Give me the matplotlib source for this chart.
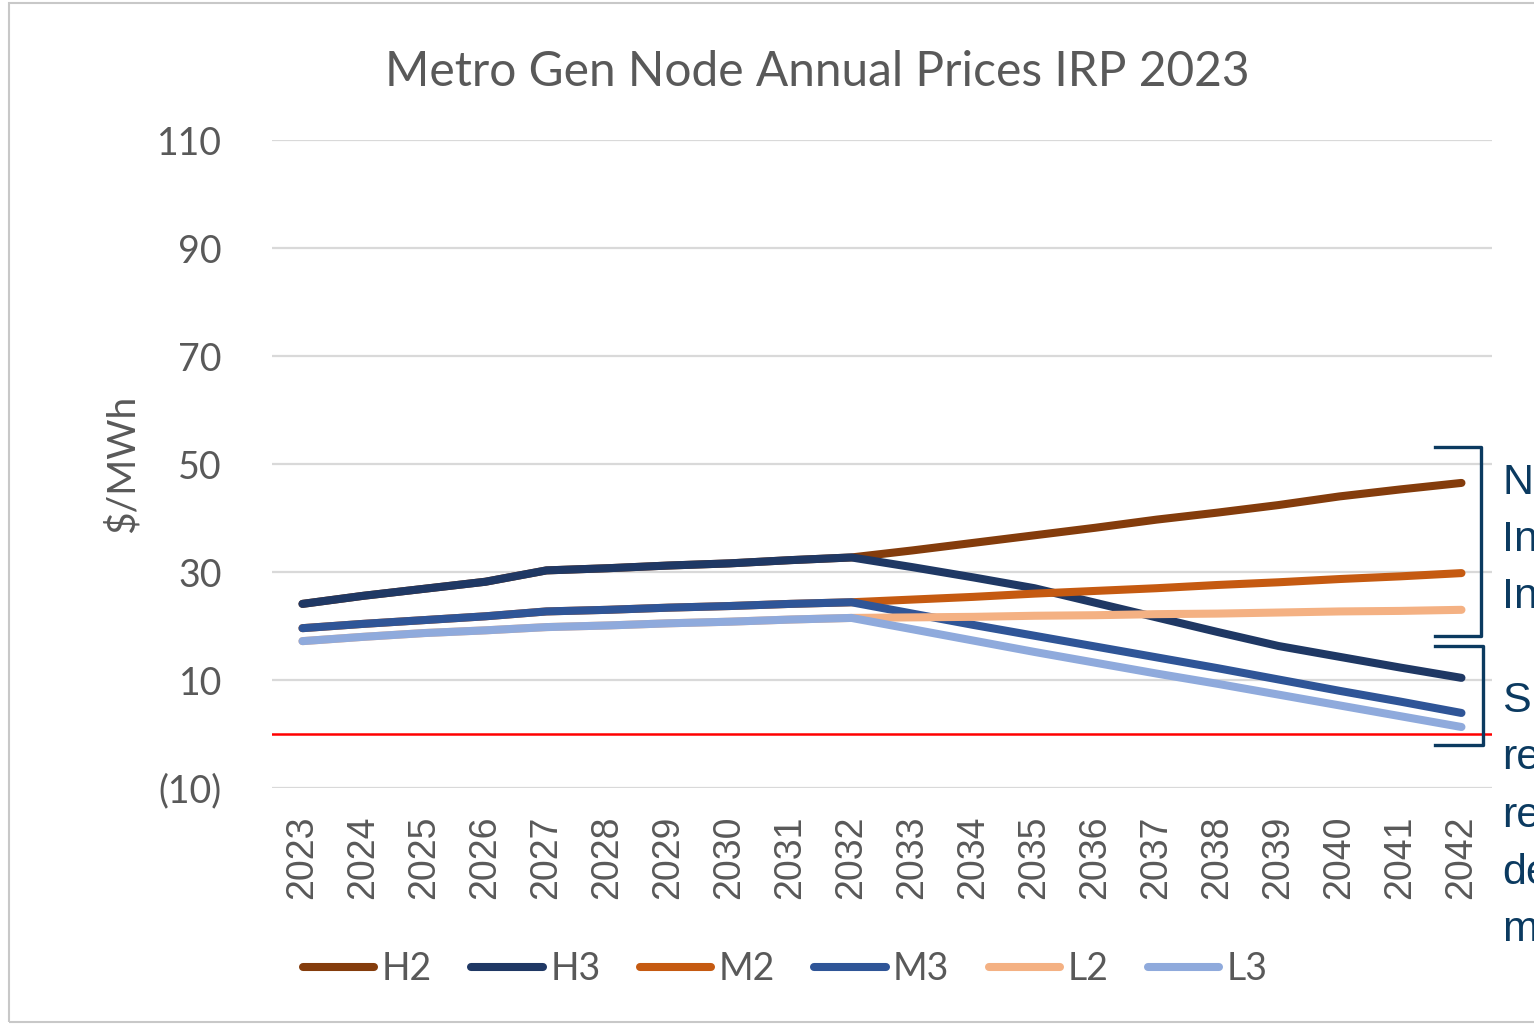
import matplotlib.pyplot as plt
from matplotlib.lines import Line2D
from matplotlib.patches import Rectangle
from matplotlib.ticker import FuncFormatter

anos = list(range(2023, 2043))

h2 = [24.1, 25.6, 26.9, 28.2, 30.3, 30.7, 31.2, 31.6, 32.2, 32.7,
      34.0, 35.4, 36.8, 38.2, 39.7, 41.0, 42.4, 44.0, 45.3, 46.5]
h3 = [24.1, 25.6, 26.9, 28.2, 30.3, 30.7, 31.2, 31.6, 32.2, 32.7,
      30.9, 29.0, 27.0, 24.3, 21.6, 18.9, 16.3, 14.3, 12.3, 10.4]
m2 = [19.6, 20.4, 21.1, 21.8, 22.7, 23.0, 23.4, 23.7, 24.1, 24.4,
      24.9, 25.4, 26.0, 26.5, 27.0, 27.6, 28.1, 28.7, 29.2, 29.8]
m3 = [19.6, 20.4, 21.1, 21.8, 22.7, 23.0, 23.4, 23.7, 24.1, 24.4,
      22.3, 20.2, 18.2, 16.2, 14.2, 12.2, 10.1, 8.0, 6.0, 3.9]
l2 = [17.2, 18.0, 18.7, 19.2, 19.8, 20.1, 20.5, 20.8, 21.2, 21.5,
      21.6, 21.7, 21.9, 22.0, 22.2, 22.3, 22.5, 22.7, 22.8, 23.0]
l3 = [17.2, 18.0, 18.7, 19.2, 19.8, 20.1, 20.5, 20.8, 21.2, 21.5,
      19.4, 17.3, 15.2, 13.2, 11.2, 9.3, 7.3, 5.3, 3.3, 1.3]

series = [('H2', h2, '#843C0C'), ('H3', h3, '#1F3864'),
          ('M2', m2, '#C55A11'), ('M3', m3, '#2F5597'),
          ('L2', l2, '#F4B183'), ('L3', l3, '#8FAADC')]

yticks = [-10, 10, 30, 50, 70, 90, 110]
cinza = '#595959'
azul_nota = '#0B3A60'

fig = plt.figure(figsize=(15.34, 10.25), dpi=100)
ax = fig.add_axes([0.1773, 0.2312, 0.7953, 0.6322])

x = list(range(len(anos)))
for nome, vals, cor in series:
    ax.plot(x, vals, color=cor, lw=5.8, label=nome, solid_capstyle='round', zorder=3)

ax.axhline(0, color='#FF0000', lw=1.8, zorder=4)

ax.set_xlim(-0.5, len(anos) - 0.5)
ax.set_ylim(-10, 110)
ax.set_yticks(yticks)
ax.yaxis.set_major_formatter(FuncFormatter(lambda v, p: f'({abs(int(v))})' if v < 0 else f'{int(v)}'))
ax.set_xticks(x)
ax.set_xticklabels([str(a) for a in anos], rotation=90, fontsize=27,
                   family='Liberation Sans', color=cinza)
for t in ax.get_yticklabels():
    t.set_family('Lato')
    t.set_fontsize(27)
    t.set_color(cinza)
ax.tick_params(axis='both', length=0)
ax.tick_params(axis='x', pad=20)
ax.tick_params(axis='y', pad=36)
ax.grid(axis='y', color='#D9D9D9', lw=1.6, zorder=0)
for s in ax.spines.values():
    s.set_visible(False)

ax.set_ylabel('$/MWh', family='Lato', fontsize=28, color=cinza, labelpad=12)
fig.text(0.5325, 0.93, 'Metro Gen Node Annual Prices IRP 2023', ha='center', va='center',
         family='Lato', fontsize=34.5, color=cinza)

leg = fig.legend(loc='center', bbox_to_anchor=(0.512, 0.055), ncol=6, frameon=False,
                 prop={'family': 'Lato', 'size': 27}, handlelength=1.9,
                 handletextpad=0.2, columnspacing=1.05)
for t in leg.get_texts():
    t.set_color(cinza)

# colchetes e notas do lado direito
W, H = 1534, 1025
def colchete(y0, y1, xr=1481, xl=1435):
    pts_x = [xl / W, xr / W, xr / W, xl / W]
    pts_y = [1 - y0 / H, 1 - y0 / H, 1 - y1 / H, 1 - y1 / H]
    fig.add_artist(Line2D(pts_x, pts_y, color=azul_nota, lw=2.4,
                          solid_joinstyle='round', transform=fig.transFigure))

colchete(447, 636)
colchete(646, 745, xr=1483)

fig.text(1502 / W, 1 - 463 / H, 'N\nIn\nIn', ha='left', va='top', family='Liberation Sans',
         fontsize=31, color=azul_nota, linespacing=1.55)
fig.text(1502 / W, 1 - 681 / H, 'S\nre\nre\nde\nm', ha='left', va='top', family='Liberation Sans',
         fontsize=31, color=azul_nota, linespacing=1.56)

fig.add_artist(Rectangle((9 / W, 3 / H), 1.2, 1 - 6 / H, fill=False, edgecolor='#C8C8C8',
                         lw=1.5, transform=fig.transFigure))

fig.savefig('out.png', dpi=100)
